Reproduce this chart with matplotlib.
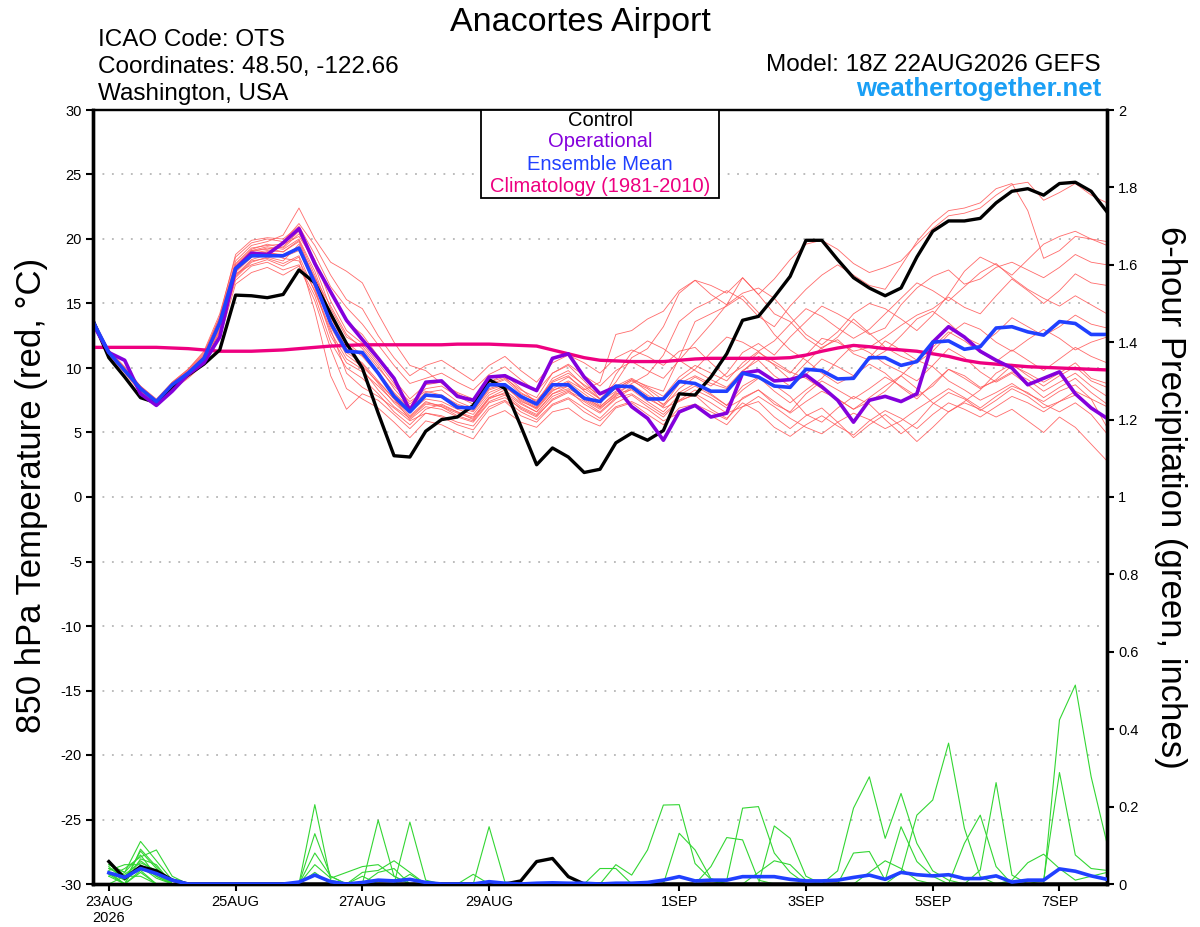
import numpy as np
import matplotlib
matplotlib.use('Agg')
import matplotlib.pyplot as plt
from matplotlib.patches import Rectangle

plt.rcParams['font.family'] = ['Liberation Sans', 'DejaVu Sans']
plt.rcParams['axes.unicode_minus'] = False

# 6-hourly steps starting 18Z 22AUG2026
steps = np.arange(65)
tick_steps = [1, 9, 17, 25, 37, 45, 53, 61]
tick_labels = ['23AUG\n2026', '25AUG', '27AUG', '29AUG', '1SEP', '3SEP', '5SEP', '7SEP']

# 850 hPa temperature (C)
control_t = [13.7, 10.8, 9.3, 7.7, 7.3, 8.55, 9.45, 10.3, 11.4, 15.65, 15.6, 15.45, 15.7, 17.6, 16.6,
             14.2, 11.9, 10.0, 6.5, 3.2, 3.1, 5.1, 6.0, 6.2, 7.1, 9.1, 8.4, 5.5, 2.5, 3.8, 3.1, 1.9,
             2.15, 4.2, 4.95, 4.4, 5.15, 8.0, 7.9, 9.3, 11.1, 13.7, 14.0, 15.5, 17.1, 19.9, 19.9, 18.4,
             17.0, 16.2, 15.6, 16.2, 18.6, 20.6, 21.4, 21.4, 21.6, 22.8, 23.7, 23.9, 23.4, 24.3, 24.4,
             23.7, 22.1]
oper_t = [13.4, 11.2, 10.6, 8.0, 7.1, 8.2, 9.5, 10.4, 12.4, 17.7, 18.9, 18.8, 19.7, 20.8, 18.1, 15.9,
          13.7, 12.2, 10.75, 9.2, 6.7, 8.9, 9.0, 7.8, 7.5, 9.3, 9.4, 8.8, 8.25, 10.75, 11.1, 9.3, 8.0,
          8.55, 7.0, 6.1, 4.4, 6.6, 7.1, 6.2, 6.5, 9.6, 9.8, 9.0, 9.1, 9.45, 8.55, 7.5, 5.8, 7.5, 7.8,
          7.4, 8.0, 12.0, 13.2, 12.4, 11.3, 10.6, 10.0, 8.7, 9.2, 9.7, 8.0, 6.9, 6.1]
mean_t = [13.6, 11.2, 9.8, 8.4, 7.4, 8.7, 9.6, 10.75, 13.5, 17.7, 18.7, 18.7, 18.7, 19.3, 16.6, 13.5,
          11.3, 11.2, 9.6, 7.8, 6.6, 7.9, 7.8, 6.95, 6.9, 8.7, 8.7, 7.8, 7.2, 8.7, 8.7, 7.65, 7.4, 8.6,
          8.55, 7.6, 7.6, 8.95, 8.8, 8.2, 8.2, 9.6, 9.3, 8.6, 8.5, 9.9, 9.8, 9.15, 9.2, 10.8, 10.8,
          10.2, 10.5, 12.0, 12.1, 11.45, 11.65, 13.1, 13.2, 12.8, 12.55, 13.6, 13.45, 12.6, 12.6]
clim_t = [11.6, 11.6, 11.6, 11.6, 11.6, 11.55, 11.5, 11.4, 11.3, 11.3, 11.3, 11.35, 11.4, 11.5, 11.6,
          11.7, 11.75, 11.8, 11.8, 11.8, 11.8, 11.8, 11.8, 11.85, 11.85, 11.85, 11.8, 11.75, 11.7, 11.4,
          11.1, 10.8, 10.6, 10.55, 10.5, 10.5, 10.5, 10.6, 10.7, 10.75, 10.75, 10.75, 10.75, 10.75,
          10.8, 11.0, 11.3, 11.55, 11.75, 11.65, 11.5, 11.4, 11.3, 11.1, 10.9, 10.6, 10.4, 10.3, 10.2,
          10.1, 10.05, 10.0, 9.95, 9.9, 9.85]

members_t = [
    [13.5, 11.0, 9.9, 8.6, 7.5, 8.9, 9.9, 11.2, 13.9, 18.3, 19.5, 19.8, 20.3, 22.4, 20.0, 18.2, 17.5,
     16.6, 14.2, 12.0, 10.2, 9.8, 8.8, 8.1, 7.6, 8.7, 9.2, 8.3, 7.7, 9.6, 10.2, 9.0, 7.6, 8.9, 10.8,
     11.5, 13.2, 15.8, 16.8, 16.4, 15.8, 17.0, 15.7, 16.9, 18.4, 19.6, 19.9, 19.2, 18.1, 17.4, 17.8,
     18.3, 19.6, 20.8, 21.8, 22.0, 22.4, 23.4, 24.2, 24.4, 23.0, 23.6, 24.3, 23.4, 22.8],
    [13.7, 11.3, 9.7, 8.2, 7.2, 8.5, 9.4, 10.5, 12.8, 17.0, 18.2, 18.6, 18.3, 19.6, 17.0, 14.8, 12.6,
     11.5, 10.0, 8.6, 7.4, 8.2, 7.9, 7.2, 6.8, 8.4, 8.8, 7.4, 6.9, 8.3, 8.6, 7.5, 6.8, 7.9, 8.8, 9.5,
     11.0, 13.6, 14.6, 15.2, 16.0, 15.3, 14.0, 13.2, 14.8, 16.1, 17.2, 18.0, 17.2, 16.4, 16.1, 17.9,
     19.8, 21.2, 22.2, 22.4, 22.8, 23.9, 24.3, 22.2, 18.5, 19.1, 20.2, 20.0, 19.5],
    [13.6, 11.1, 9.8, 8.3, 7.3, 8.6, 9.5, 10.6, 13.2, 17.6, 18.8, 19.0, 18.5, 18.3, 16.0, 13.0, 9.6,
     8.5, 7.8, 6.9, 5.9, 6.5, 6.2, 5.6, 5.2, 6.8, 7.4, 6.3, 5.8, 7.1, 7.6, 6.6, 5.9, 7.0, 7.4, 6.8, 5.9,
     6.5, 7.1, 6.3, 5.6, 7.0, 7.4, 6.2, 5.3, 6.3, 6.9, 5.8, 4.6, 5.6, 6.4, 5.5, 4.3, 5.4, 6.6, 7.3,
     6.8, 6.2, 6.8, 5.9, 5.0, 6.2, 5.4, 4.1, 2.8],
    [13.8, 11.3, 10.0, 8.5, 7.5, 8.8, 9.7, 10.9, 13.6, 17.9, 19.0, 19.3, 19.0, 19.8, 16.8, 13.2, 11.0,
     10.1, 8.9, 7.6, 6.3, 7.4, 7.0, 6.5, 6.1, 7.7, 8.0, 7.0, 6.4, 7.8, 8.3, 7.2, 6.5, 7.6, 8.4, 7.6,
     7.0, 8.4, 9.3, 8.6, 9.6, 11.2, 11.9, 11.0, 12.4, 13.6, 14.8, 14.2, 13.5, 12.6, 13.1, 14.9, 16.2,
     17.1, 17.6, 16.5, 16.9, 17.8, 18.2, 17.6, 17.0, 17.8, 18.8, 18.2, 18.0],
    [13.4, 11.0, 9.6, 8.1, 7.1, 8.3, 9.2, 10.3, 12.3, 16.5, 17.4, 17.8, 17.2, 17.9, 15.2, 11.5, 8.4,
     7.6, 6.9, 5.8, 4.6, 5.9, 5.6, 5.0, 4.5, 6.2, 6.7, 5.8, 5.4, 6.6, 6.9, 6.0, 5.5, 6.9, 7.3, 6.4, 5.6,
     6.9, 7.2, 6.6, 6.0, 7.7, 8.3, 7.2, 6.6, 8.0, 9.0, 8.3, 7.6, 8.4, 9.3, 8.6, 7.8, 8.6, 9.9, 9.4,
     8.5, 9.0, 9.7, 9.1, 8.2, 8.9, 9.6, 8.6, 7.8],
    [13.5, 11.2, 9.8, 8.4, 7.4, 8.7, 9.7, 10.9, 13.7, 17.8, 19.1, 19.2, 19.4, 20.6, 17.9, 14.6, 12.4,
     11.7, 10.2, 8.4, 7.0, 8.1, 8.3, 7.4, 6.9, 8.9, 9.5, 8.4, 7.3, 9.2, 9.8, 8.6, 7.6, 8.4, 9.1, 8.2,
     7.1, 8.8, 9.4, 8.8, 8.4, 9.7, 10.9, 10.3, 9.6, 11.0, 12.3, 12.0, 11.3, 11.6, 12.4, 13.3, 14.1,
     14.6, 15.5, 14.7, 14.2, 15.6, 16.9, 16.0, 15.0, 16.0, 17.3, 16.6, 16.4],
    [13.7, 11.4, 10.1, 8.6, 7.6, 8.9, 9.9, 11.3, 14.2, 18.6, 19.7, 20.0, 19.8, 21.2, 19.5, 17.2, 15.3,
     14.6, 12.5, 10.8, 9.4, 10.2, 10.6, 9.8, 9.0, 10.2, 10.9, 9.8, 8.9, 10.4, 11.0, 10.4, 9.6, 10.8,
     11.4, 10.9, 10.2, 11.3, 11.6, 10.4, 9.3, 10.1, 11.2, 10.5, 9.7, 9.2, 8.4, 7.6, 6.8, 7.4, 8.2, 9.4,
     10.6, 10.1, 9.0, 8.3, 7.5, 8.1, 8.8, 8.0, 7.4, 8.2, 8.7, 7.6, 7.0],
    [13.6, 11.1, 9.7, 8.3, 7.3, 8.6, 9.6, 10.8, 13.4, 17.4, 18.6, 18.9, 18.8, 19.4, 16.2, 12.5, 10.4,
     9.7, 8.6, 7.4, 6.6, 7.6, 7.4, 6.8, 6.4, 7.9, 8.5, 7.6, 6.9, 8.4, 9.0, 8.3, 8.9, 12.6, 12.9, 13.8,
     14.4, 16.0, 16.8, 15.7, 14.9, 17.0, 15.7, 14.2, 13.6, 12.3, 11.5, 12.4, 13.8, 12.7, 11.6, 10.9,
     10.4, 11.3, 12.6, 13.5, 13.0, 12.0, 11.3, 12.2, 13.0, 12.3, 11.4, 12.0, 12.4],
    [13.5, 11.0, 9.8, 8.4, 7.4, 8.6, 9.5, 10.6, 13.0, 17.2, 18.4, 18.8, 18.6, 19.1, 16.5, 13.6, 11.2,
     10.4, 9.0, 7.6, 6.0, 7.0, 6.8, 6.2, 5.8, 7.3, 7.7, 6.9, 6.3, 7.5, 8.1, 7.4, 6.6, 7.7, 8.0, 7.2,
     6.4, 7.5, 7.9, 6.8, 6.1, 7.3, 6.6, 5.4, 4.7, 5.6, 6.3, 5.5, 4.8, 5.9, 6.7, 6.1, 5.3, 6.4, 7.3, 6.8,
     6.2, 7.0, 7.8, 7.3, 6.6, 7.4, 7.9, 6.9, 6.0],
    [13.8, 11.4, 10.0, 8.5, 7.5, 8.8, 9.8, 11.0, 13.9, 18.1, 19.3, 19.5, 19.6, 20.2, 18.3, 15.8, 13.6,
     12.6, 10.9, 9.1, 7.6, 8.7, 8.9, 8.0, 7.4, 8.9, 9.3, 8.1, 7.4, 9.0, 9.6, 8.7, 7.9, 8.6, 9.2, 8.5,
     7.8, 9.3, 10.2, 9.6, 9.0, 10.4, 11.3, 10.2, 9.1, 10.4, 11.6, 12.2, 11.1, 10.6, 11.3, 12.5, 13.8,
     14.4, 13.5, 12.4, 11.8, 12.7, 13.9, 13.2, 12.5, 13.2, 14.1, 13.4, 13.1],
    [13.6, 11.2, 9.9, 8.4, 7.4, 8.7, 9.6, 10.7, 13.3, 17.3, 18.0, 18.4, 17.9, 18.6, 14.4, 9.4, 6.8,
     8.0, 7.5, 6.4, 5.3, 6.5, 6.3, 5.8, 5.5, 7.0, 7.5, 6.6, 6.0, 7.2, 7.7, 6.9, 6.1, 7.3, 7.9, 7.0, 6.2,
     7.5, 8.3, 7.7, 6.9, 7.6, 8.3, 7.4, 6.5, 7.4, 8.2, 7.6, 6.8, 7.7, 8.6, 9.4, 8.4, 7.3, 6.6, 7.4, 8.3,
     9.6, 10.3, 9.4, 8.6, 9.4, 10.1, 9.0, 8.5],
    [13.7, 11.3, 9.9, 8.5, 7.5, 8.8, 9.8, 11.1, 14.0, 18.8, 19.9, 20.1, 20.0, 21.0, 18.8, 16.3, 14.7,
     13.4, 11.8, 10.2, 8.8, 9.2, 9.6, 8.9, 8.3, 9.5, 10.1, 9.1, 8.2, 9.6, 10.3, 9.4, 8.6, 9.8, 10.5,
     9.8, 9.2, 10.6, 12.0, 13.4, 14.9, 15.8, 16.2, 15.4, 14.0, 12.6, 11.8, 12.8, 14.2, 15.0, 14.6,
     13.8, 12.9, 14.1, 15.7, 17.5, 18.6, 18.0, 17.2, 18.4, 19.6, 20.2, 20.6, 20.0, 19.8],
    [13.5, 11.1, 9.7, 8.3, 7.2, 8.5, 9.4, 10.4, 12.6, 16.8, 17.9, 18.2, 17.6, 18.0, 15.6, 12.0, 10.0,
     9.2, 8.0, 6.6, 5.6, 6.8, 7.2, 6.6, 6.0, 7.6, 8.1, 7.2, 6.6, 8.0, 8.6, 7.8, 7.0, 8.1, 8.7, 7.9, 7.2,
     8.1, 8.8, 8.0, 7.1, 8.3, 9.2, 8.7, 7.8, 6.4, 5.8, 6.9, 7.8, 7.2, 6.0, 4.9, 5.8, 7.2, 8.1, 7.6, 6.7,
     7.5, 8.4, 7.8, 6.9, 7.4, 8.2, 7.6, 5.4],
    [13.6, 11.2, 9.8, 8.4, 7.4, 8.7, 9.6, 10.8, 13.5, 17.7, 18.9, 19.1, 19.0, 19.9, 17.2, 13.9, 11.8,
     10.9, 9.5, 8.0, 6.8, 7.9, 7.8, 7.1, 6.7, 8.3, 8.7, 7.7, 7.0, 8.6, 9.3, 8.4, 7.6, 8.4, 9.1, 8.6,
     8.2, 10.8, 13.6, 14.2, 14.8, 15.6, 14.3, 12.6, 11.4, 10.6, 9.6, 8.8, 9.4, 10.3, 9.6, 8.5, 7.6, 8.8,
     9.9, 9.2, 8.4, 9.1, 10.2, 9.6, 8.9, 9.6, 10.4, 9.2, 8.8],
    [13.6, 11.3, 9.9, 8.5, 7.4, 8.8, 9.7, 10.9, 13.8, 18.0, 19.2, 19.6, 19.3, 20.4, 18.4, 15.2, 12.9,
     11.9, 10.4, 8.8, 7.2, 8.4, 8.6, 7.8, 7.2, 8.6, 9.1, 8.0, 7.5, 8.9, 9.4, 8.2, 7.4, 8.2, 9.0, 8.4,
     7.5, 9.0, 9.9, 11.2, 12.4, 12.0, 11.3, 12.1, 13.4, 14.6, 14.0, 13.1, 12.3, 13.0, 14.2, 15.4, 16.6,
     16.0, 15.2, 16.3, 17.4, 18.1, 17.0, 16.1, 15.4, 14.8, 15.6, 14.9, 14.2],
    [13.4, 11.0, 9.7, 8.2, 7.2, 8.4, 9.3, 10.4, 12.9, 17.1, 18.3, 18.5, 18.1, 18.7, 15.9, 12.8, 10.7,
     9.9, 8.3, 7.0, 6.1, 7.2, 7.0, 6.3, 5.9, 7.4, 7.9, 6.8, 6.2, 7.6, 8.2, 7.6, 6.9, 7.8, 8.5, 7.8, 6.9,
     7.4, 8.0, 7.3, 6.5, 7.0, 7.8, 7.0, 6.1, 5.4, 4.9, 5.8, 6.5, 6.0, 5.3, 5.9, 6.8, 7.6, 8.4, 7.7, 6.9,
     7.8, 8.6, 8.1, 7.2, 6.6, 7.3, 6.4, 4.9],
    [13.7, 11.2, 9.9, 8.4, 7.5, 8.7, 9.6, 10.8, 13.6, 17.9, 19.1, 19.4, 19.2, 20.0, 17.5, 14.1, 12.0,
     11.0, 9.7, 8.1, 6.9, 8.0, 7.7, 7.0, 6.6, 8.1, 8.6, 7.5, 6.8, 8.2, 8.9, 8.0, 7.1, 9.5, 11.2, 12.1,
     11.5, 10.6, 9.8, 9.1, 8.5, 9.8, 10.6, 9.4, 8.6, 9.5, 10.7, 10.1, 9.4, 10.8, 12.1, 11.4, 10.6, 11.6,
     12.8, 12.1, 11.2, 10.5, 11.4, 10.6, 9.8, 10.7, 11.6, 10.9, 10.4],
    [13.5, 11.1, 9.8, 8.3, 7.3, 8.6, 9.5, 10.7, 13.1, 17.5, 18.6, 19.0, 18.7, 19.3, 16.9, 14.0, 11.5,
     10.3, 8.8, 7.3, 6.2, 7.3, 7.1, 6.6, 6.2, 7.7, 8.3, 7.3, 6.6, 8.0, 8.4, 7.7, 7.0, 8.0, 8.3, 7.4, 6.6,
     7.9, 8.6, 7.9, 7.1, 8.6, 9.3, 8.2, 7.3, 8.3, 9.2, 10.6, 11.8, 11.2, 10.3, 9.7, 9.0, 10.2, 11.5,
     10.8, 9.7, 8.9, 9.6, 8.7, 7.7, 8.5, 9.2, 8.1, 7.2],
]

# 6-hour precipitation (inches), {step: value}, zero elsewhere, steps 1..64
control_p = {1: 0.058, 2: 0.015, 3: 0.045, 4: 0.034, 5: 0.01, 27: 0.008, 28: 0.058, 29: 0.066,
             30: 0.019}
mean_p = {1: 0.029, 2: 0.017, 3: 0.04, 4: 0.027, 5: 0.01, 13: 0.005, 14: 0.023, 15: 0.006, 17: 0.004,
          18: 0.01, 19: 0.008, 20: 0.012, 21: 0.004, 25: 0.006, 26: 0.002, 28: 0.002, 29: 0.003,
          30: 0.002, 31: 0.002, 33: 0.002, 34: 0.002, 35: 0.004, 36: 0.01, 37: 0.019, 38: 0.008,
          39: 0.01, 40: 0.01, 41: 0.019, 42: 0.019, 43: 0.019, 44: 0.012, 45: 0.008, 46: 0.008,
          47: 0.01, 48: 0.017, 49: 0.023, 50: 0.012, 51: 0.03, 52: 0.024, 53: 0.021, 54: 0.024,
          55: 0.014, 56: 0.014, 57: 0.021, 58: 0.005, 59: 0.01, 60: 0.01, 61: 0.039, 62: 0.033,
          63: 0.021, 64: 0.012}
members_p = [
    {1: 0.05, 2: 0.03, 3: 0.11, 4: 0.06, 5: 0.01, 33: 0.05, 34: 0.023, 35: 0.088, 36: 0.204,
     37: 0.205, 38: 0.053, 39: 0.012},
    {1: 0.03, 2: 0.01, 3: 0.085, 4: 0.04, 14: 0.205, 15: 0.01, 37: 0.131, 38: 0.088, 39: 0.014},
    {1: 0.02, 2: 0.04, 3: 0.07, 4: 0.088, 5: 0.02, 14: 0.13, 15: 0.02, 39: 0.045, 40: 0.12,
     41: 0.114, 42: 0.01},
    {1: 0.04, 2: 0.02, 3: 0.06, 4: 0.03, 18: 0.165, 19: 0.02, 40: 0.01, 41: 0.196, 42: 0.2,
     43: 0.08, 44: 0.03},
    {1: 0.035, 2: 0.05, 3: 0.05, 4: 0.02, 20: 0.16, 21: 0.01, 43: 0.15, 44: 0.118, 45: 0.02},
    {1: 0.06, 2: 0.015, 3: 0.04, 4: 0.025, 25: 0.148, 26: 0.005, 47: 0.034, 48: 0.196, 49: 0.277,
     50: 0.118, 51: 0.234, 52: 0.105, 53: 0.034, 54: 0.01},
    {1: 0.025, 3: 0.03, 14: 0.05, 15: 0.015, 16: 0.03, 17: 0.045, 18: 0.05, 19: 0.02, 48: 0.08,
     49: 0.084, 50: 0.01, 51: 0.148, 52: 0.058, 53: 0.02},
    {1: 0.045, 2: 0.01, 3: 0.045, 4: 0.015, 51: 0.03, 52: 0.178, 53: 0.217, 54: 0.364, 55: 0.144,
     56: 0.019},
    {2: 0.02, 3: 0.02, 14: 0.03, 17: 0.03, 18: 0.035, 19: 0.06, 20: 0.03, 55: 0.105, 56: 0.178,
     57: 0.045},
    {1: 0.03, 3: 0.065, 4: 0.05, 20: 0.025, 24: 0.025, 32: 0.04, 33: 0.04, 56: 0.036, 57: 0.262,
     58: 0.023},
    {1: 0.05, 2: 0.03, 3: 0.075, 4: 0.02, 61: 0.424, 62: 0.514, 63: 0.277, 64: 0.105},
    {1: 0.02, 3: 0.035, 18: 0.03, 19: 0.04, 60: 0.01, 61: 0.288, 62: 0.075, 63: 0.04, 64: 0.035},
    {1: 0.04, 2: 0.025, 3: 0.055, 4: 0.035, 58: 0.01, 59: 0.055, 60: 0.077, 61: 0.04, 62: 0.01,
     63: 0.02, 64: 0.03},
    {1: 0.03, 3: 0.09, 4: 0.045, 14: 0.08, 15: 0.02, 17: 0.02, 42: 0.03, 43: 0.06, 44: 0.05,
     45: 0.01, 49: 0.03, 50: 0.06, 51: 0.04, 52: 0.01},
]

RED = '#ff5a5a'
GREEN = '#33d633'
PURPLE = '#8400dc'
BLUE = '#2040ff'
PINK = '#ee0080'


def precip_series(d):
    vals = np.zeros(64)
    for k, v in d.items():
        vals[k - 1] = v
    return vals


fig = plt.figure(figsize=(12, 9.27), dpi=100)
ax = fig.add_axes([93 / 1200, 1 - 884 / 927, 1014 / 1200, 774 / 927])
ax2 = ax.twinx()

for m in members_t:
    ax.plot(steps, m, color=RED, lw=0.6, alpha=0.9, zorder=2)
ax.plot(steps, clim_t, color=PINK, lw=2.4, zorder=3)
ax.plot(steps, control_t, color='black', lw=2.4, zorder=4)
ax.plot(steps, oper_t, color=PURPLE, lw=2.6, zorder=5)
ax.plot(steps, mean_t, color=BLUE, lw=2.6, zorder=6)

psteps = steps[1:]
for m in members_p:
    ax2.plot(psteps, precip_series(m), color=GREEN, lw=0.8, zorder=2)
ax2.plot(psteps, precip_series(control_p), color='black', lw=2.4, zorder=4)
ax2.plot(psteps, precip_series(mean_p), color=BLUE, lw=2.6, zorder=5)

ax.set_xlim(0, 64)
ax.set_ylim(-30, 30)
ax2.set_ylim(0, 2)
ax.set_yticks(np.arange(-30, 31, 5))
ax.set_yticklabels([str(v) for v in range(-30, 31, 5)])
pt = np.round(np.arange(0, 2.01, 0.2), 1)
ax2.set_yticks(pt)
ax2.set_yticklabels(['%g' % v for v in pt])
ax.set_xticks(tick_steps)
ax.set_xticklabels(tick_labels)

ax.yaxis.grid(True, ls=(0, (1.2, 5)), color='#aaaaaa', lw=1.1)
ax.set_axisbelow(True)

for a in (ax, ax2):
    a.tick_params(axis='both', direction='out', length=5, width=1.5, labelsize=10.5, pad=3)
    for s in ('left', 'right', 'bottom'):
        a.spines[s].set_linewidth(2.4)
    a.spines['top'].set_linewidth(1.6)

# legend box
ax2.add_patch(Rectangle((0.3826, 0.8863), 0.2347, 0.1137, transform=ax2.transAxes,
                        facecolor='white', edgecolor='black', lw=1.3, zorder=10, clip_on=False))
leg_items = [('Control', 'black'), ('Operational', PURPLE), ('Ensemble Mean', BLUE),
             ('Climatology (1981-2010)', PINK)]
for (txt, col), yy in zip(leg_items, [0.9858, 0.9587, 0.9302, 0.9018]):
    ax2.text(0.5, yy, txt, color=col, fontsize=14.5, ha='center', va='center',
             transform=ax2.transAxes, zorder=11)

fig.text(580 / 1200, 1 - 31 / 927, 'Anacortes Airport', fontsize=24.5, ha='center', va='baseline')
fig.text(98 / 1200, 1 - 46 / 927, 'ICAO Code: OTS', fontsize=17.5, ha='left', va='baseline')
fig.text(98 / 1200, 1 - 73 / 927, 'Coordinates: 48.50, -122.66', fontsize=17.5, ha='left',
         va='baseline')
fig.text(98 / 1200, 1 - 100 / 927, 'Washington, USA', fontsize=17.5, ha='left', va='baseline')
fig.text(1101 / 1200, 1 - 71 / 927, 'Model: 18Z 22AUG2026 GEFS', fontsize=17.5, ha='right',
         va='baseline')
fig.text(1101 / 1200, 1 - 96 / 927, 'weathertogether.net', fontsize=18.5, fontweight='bold',
         color='#1a9ff5', ha='right', va='baseline')

fig.text(32 / 1200, 1 - 495 / 927, '850 hPa Temperature (red, °C)', fontsize=25,
         rotation=90, ha='center', va='center')
fig.text(1170 / 1200, 1 - 497 / 927, '6-hour Precipitation (green, inches)', fontsize=25,
         rotation=-90, ha='center', va='center')

fig.savefig('out.png', dpi=100)
